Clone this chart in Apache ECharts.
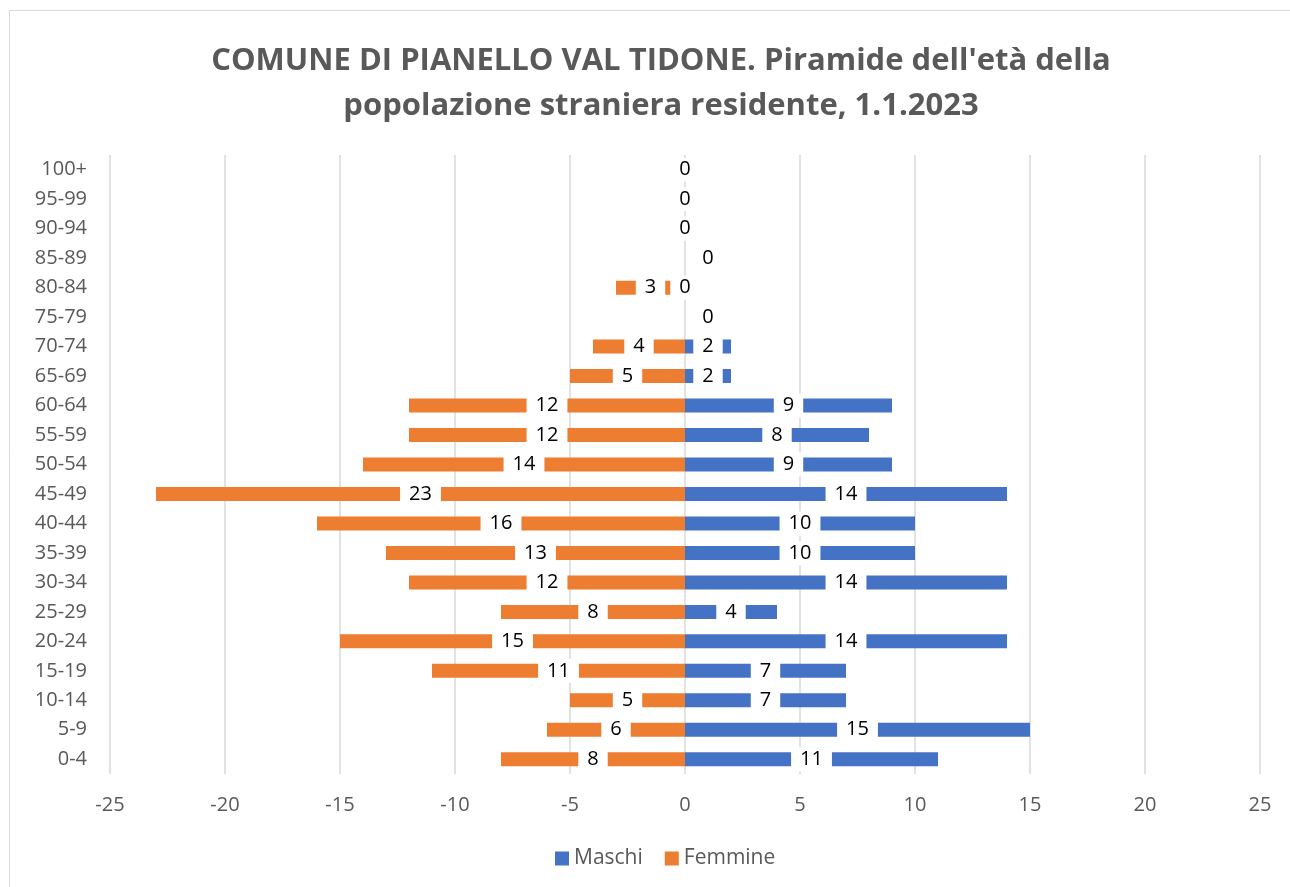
<!DOCTYPE html>
<html>
<head>
<meta charset="utf-8">
<script src="https://cdn.jsdelivr.net/npm/echarts@6/dist/echarts.min.js"></script>
<style>
  html, body { margin: 0; padding: 0; background: #fff; }
  #main { width: 1290px; height: 887px; }
</style>
</head>
<body>
<div id="main"></div>
<script>
// classi di età (dal basso verso l'alto)
var categories = ['0-4', '5-9', '10-14', '15-19', '20-24', '25-29', '30-34', '35-39', '40-44', '45-49',
  '50-54', '55-59', '60-64', '65-69', '70-74', '75-79', '80-84', '85-89', '90-94', '95-99', '100+'];
var maschi = [11, 15, 7, 7, 14, 4, 14, 10, 10, 14, 9, 8, 9, 2, 2, 0, 0, 0, 0, 0, 0];
var femmine = [8, 6, 5, 11, 15, 8, 12, 13, 16, 23, 14, 12, 12, 5, 4, 0, 3, 0, 0, 0, 0];
var xTicks = [-25, -20, -15, -10, -5, 0, 5, 10, 15, 20, 25];

// etichette "0" spostate a destra come nell'originale
var shiftedZero = ['75-79', '85-89'];

var gray = '#595959';
var font = 'Open Sans';

var labelStyle = {
  show: true,
  position: 'inside',
  color: '#000',
  fontSize: 20,
  fontFamily: font,
  backgroundColor: '#fff',
  padding: [3, 9, 0, 9],
  lineHeight: 21
};

var chart = echarts.init(document.getElementById('main'));
chart.setOption({
  backgroundColor: '#fff',
  animation: false,
  graphic: [{
    type: 'rect',
    shape: { x: 9.5, y: 10.5, width: 1300, height: 900 },
    style: { fill: 'none', stroke: '#d9d9d9', lineWidth: 1 },
    silent: true
  }],
  title: {
    text: "COMUNE DI PIANELLO VAL TIDONE. Piramide dell'età della\npopolazione straniera residente, 1.1.2023",
    left: 656,
    textAlign: 'center',
    top: 34,
    textStyle: {
      color: gray,
      fontSize: 31,
      fontWeight: 'bold',
      fontFamily: font,
      lineHeight: 45
    }
  },
  legend: {
    bottom: 13,
    left: 550,
    itemWidth: 14,
    itemHeight: 14,
    itemGap: 22,
    icon: 'rect',
    textStyle: { color: gray, fontSize: 21, fontFamily: font },
    data: ['Maschi', 'Femmine']
  },
  grid: { left: 110, right: 30, top: 155, bottom: 113, containLabel: false },
  xAxis: {
    type: 'value',
    min: xTicks[0],
    max: xTicks[xTicks.length - 1],
    interval: 5,
    axisLine: { show: false },
    axisTick: { show: false },
    axisLabel: { color: gray, fontSize: 20, fontFamily: font, margin: 21 },
    splitLine: { lineStyle: { color: '#d9d9d9', width: 1.5 } }
  },
  yAxis: {
    type: 'category',
    data: categories,
    axisLine: { show: false, onZero: false },
    axisTick: { show: false },
    axisLabel: { color: gray, fontSize: 20, fontFamily: font, margin: 23 }
  },
  series: [{
    name: 'Maschi',
    type: 'bar',
    barWidth: 14,
    barGap: '-100%',
    itemStyle: { color: '#4472C4' },
    label: labelStyle,
    data: maschi.map(function (v, i) {
      var d = { value: v };
      if (v === 0 && shiftedZero.indexOf(categories[i]) >= 0) {
        d.label = { offset: [23, 0] };
      }
      return d;
    })
  }, {
    name: 'Femmine',
    type: 'bar',
    barWidth: 14,
    itemStyle: { color: '#ED7D31' },
    label: Object.assign({}, labelStyle, {
      formatter: function (p) { return p.value === 0 ? '' : String(Math.abs(p.value)); }
    }),
    data: femmine.map(function (v) { return v === 0 ? { value: 0, label: { show: false } } : -v; })
  }]
});
</script>
</body>
</html>
